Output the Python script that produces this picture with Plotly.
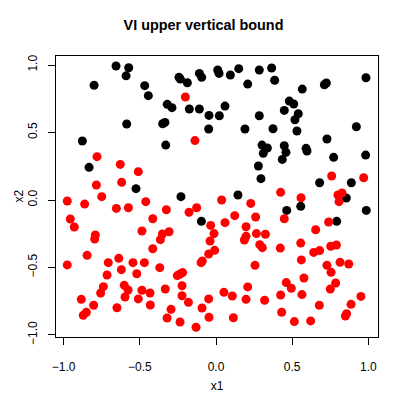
import plotly.graph_objects as go

## DATA ##
black_x = [-0.656, -0.573, -0.59, -0.80, -0.468, -0.444, -0.243, -0.234, -0.188, -0.109,
           -0.094, -0.32, -0.289, -0.175, -0.109, -0.046, -0.586, -0.35, -0.335, -0.048,
           -0.877, -0.33, -0.833, -0.525, -0.23, 0.011, 0.02, 0.149, 0.094, 0.284,
           0.365, 0.208, 0.385, 0.566, 0.711, 0.724, 0.984, 0.481, 0.51, 0.059,
           0.022, 0.284, 0.448, 0.54, 0.518, 0.19, 0.374, 0.531, 0.921, 0.728,
           0.302, 0.337, 0.31, 0.448, 0.459, 0.435, 0.591, 0.597, 0.278, 0.295,
           0.772, 0.982, 0.68, 0.888, 0.144, 0.855, 0.464, 0.556, 0.986, 0.792,
           -0.096]
black_y = [0.993, 0.98, 0.92, 0.85, 0.847, 0.773, 0.909, 0.896, 0.869, 0.938,
           0.909, 0.709, 0.684, 0.674, 0.674, 0.627, 0.563, 0.565, 0.575, 0.526,
           0.437, 0.407, 0.242, 0.084, 0.025, 0.963, 0.938, 0.973, 0.926, 0.963,
           0.978, 0.859, 0.887, 0.822, 0.854, 0.867, 0.906, 0.733, 0.711, 0.696,
           0.624, 0.624, 0.664, 0.639, 0.595, 0.526, 0.528, 0.511, 0.543, 0.452,
           0.407, 0.385, 0.346, 0.402, 0.353, 0.301, 0.383, 0.363, 0.252, 0.158,
           0.316, 0.333, 0.128, 0.128, 0.037, 0.015, -0.077, -0.047, -0.077, -0.158,
           -0.158]

red_x = [-0.201, -0.138, -0.781, -0.628, -0.51, -0.785, -0.619, -0.75, -0.976, -0.461,
         0.759, 0.969, 0.424, 0.558, 0.8, 0.827, 0.037, 0.807, 0.228, 0.123,
         0.26, 0.059, 0.448, 0.739, 0.197, 0.654, 0.197, 0.186, 0.265, 0.324,
         0.287, 0.304, 0.422, 0.556, 0.641, 0.68, 0.753, 0.79, 0.56, 0.256,
         0.728, 0.814, 0.871, 0.755, 0.577, 0.461, 0.494, 0.785, 0.75, 0.208,
         0.052, 0.107, 0.197, 0.319, 0.424, 0.564, 0.951, 0.886, 0.678, 0.857,
         0.849, 0.431, 0.114, 0.514, 0.621, -0.862, -0.654, -0.575, -0.326, -0.177,
         -0.127, -0.956, -0.93, -0.415, -0.486, -0.035, -0.013, -0.352, -0.308, -0.365,
         -0.792, -0.796, -0.039, -0.415, -0.009, -0.048, -0.846, -0.976, -0.638, -0.707,
         -0.545, -0.47, -0.621, -0.52, -0.715, -0.369, -0.09, -0.098, -0.254, -0.236,
         -0.219, -0.739, -0.757, -0.602, -0.577, -0.597, -0.486, -0.433, -0.51, -0.333,
         -0.223, -0.223, -0.181, -0.048, -0.884, -0.803, -0.851, -0.871, -0.65, -0.431,
         -0.295, -0.092, -0.321, -0.236, -0.046, -0.131]
red_y = [0.763, 0.44, 0.321, 0.264, 0.21, 0.111, 0.131, 0.025, -0.007, -0.012,
         0.178, 0.165, 0.057, 0.017, 0.037, 0.052, 0.0, -0.012, -0.025, -0.116,
         -0.126, -0.168, -0.139, -0.163, -0.198, -0.22, -0.269, -0.296, -0.249, -0.254,
         -0.331, -0.353, -0.356, -0.319, -0.388, -0.375, -0.343, -0.333, -0.444, -0.484,
         -0.484, -0.462, -0.474, -0.536, -0.578, -0.612, -0.654, -0.615, -0.659, -0.644,
         -0.684, -0.711, -0.736, -0.743, -0.704, -0.701, -0.714, -0.773, -0.78, -0.842,
         -0.859, -0.832, -0.872, -0.901, -0.896, -0.03, -0.062, -0.057, -0.072, -0.091,
         -0.057, -0.141, -0.2, -0.139, -0.23, -0.188, -0.249, -0.252, -0.235, -0.294,
         -0.259, -0.289, -0.304, -0.361, -0.373, -0.4, -0.41, -0.481, -0.432, -0.464,
         -0.464, -0.464, -0.516, -0.546, -0.556, -0.501, -0.452, -0.464, -0.56, -0.548,
         -0.538, -0.642, -0.689, -0.632, -0.667, -0.719, -0.669, -0.689, -0.733, -0.659,
         -0.635, -0.709, -0.758, -0.733, -0.736, -0.78, -0.832, -0.854, -0.798, -0.778,
         -0.81, -0.8, -0.874, -0.904, -0.869, -0.943]

tick_vals = [-1.0, -0.5, 0.0, 0.5, 1.0]
tick_text = ['\u22121.0', '\u22120.5', '0.0', '0.5', '1.0']

fig = go.Figure()
fig.add_trace(go.Scatter(x=black_x, y=black_y, mode='markers',
                         marker=dict(color='black', size=9), showlegend=False))
fig.add_trace(go.Scatter(x=red_x, y=red_y, mode='markers',
                         marker=dict(color='red', size=9), showlegend=False))

axis_style = dict(
    showline=True, linewidth=1, linecolor='black', mirror=True,
    ticks='outside', ticklen=7, tickwidth=1, tickcolor='black',
    tickmode='array', tickvals=tick_vals, ticktext=tick_text,
    showgrid=False, zeroline=False, automargin=False,
    tickfont=dict(size=12, color='black'),
)

fig.update_layout(
    width=407, height=407,
    margin=dict(l=56, r=29, t=56, b=70),
    plot_bgcolor='white', paper_bgcolor='white',
    font=dict(family='Liberation Sans, Arial, sans-serif', color='black', size=12),
    title=dict(text='<b>VI upper vertical bound</b>', x=0.5, xref='container',
               y=1 - 25/407, yref='container', yanchor='middle', xanchor='center',
               font=dict(size=14.4, color='black')),
    xaxis=dict(axis_style, range=[-1.05, 1.063], ticklabelstandoff=12,
               title=dict(text='x1', standoff=8, font=dict(size=12))),
    yaxis=dict(axis_style, range=[-1.015, 1.067], tickangle=-90, ticklabelstandoff=6),
)
# y title placed by hand, plotly puts it too far out with the rotated tick labels
fig.add_annotation(text='x2', xref='paper', yref='paper', x=0, y=0.5,
                   xshift=-38, textangle=-90, showarrow=False,
                   xanchor='center', yanchor='middle', font=dict(size=12))

# page has a default body margin; drop it so the figure sits at the window corner
fig.write_html("out.html", config={'displayModeBar': False},
               post_script="document.body.style.margin='0';")
